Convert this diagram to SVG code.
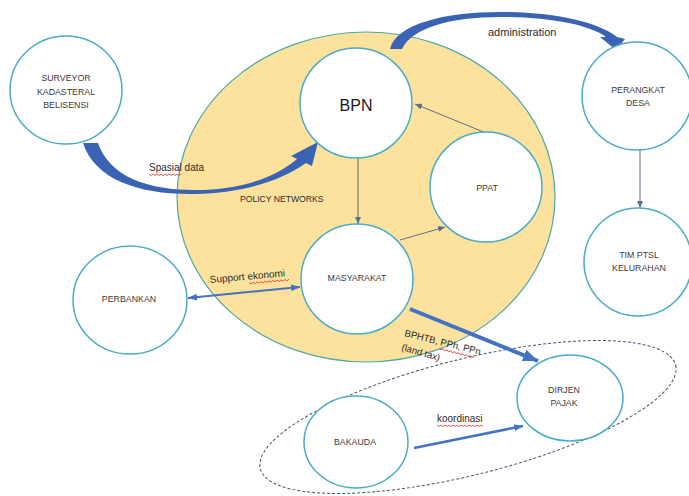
<svg xmlns="http://www.w3.org/2000/svg" width="689" height="496" viewBox="0 0 689 496">
<defs>
<style>
.node{fill:#fff;stroke:#4BACC6;stroke-width:1.5}
.lbl{font-family:"Liberation Sans",Arial,sans-serif;font-size:8.8px;fill:#3a3a3a;text-anchor:middle}
.txt{font-family:"Liberation Sans",Arial,sans-serif;font-size:10px;fill:#2b2b2b}
.thin{stroke:#5C6F88;stroke-width:1;fill:none}
.blue{stroke:#4472C4;fill:none}
.wavy{stroke:#E03030;stroke-width:0.8;fill:none}
</style>
<marker id="ah" markerUnits="userSpaceOnUse" markerWidth="8" markerHeight="8" viewBox="0 0 8 8" refX="7" refY="4" orient="auto"><path d="M0,1 L7,4 L0,7 Z" fill="#5C6F88"/></marker>
<marker id="bh" markerUnits="userSpaceOnUse" markerWidth="10" markerHeight="10" viewBox="0 0 10 10" refX="9" refY="5" orient="auto-start-reverse"><path d="M0,1.5 L9,5 L0,8.5 Z" fill="#4472C4"/></marker>
<marker id="bigh" markerUnits="userSpaceOnUse" markerWidth="16" markerHeight="16" viewBox="0 0 16 16" refX="15" refY="8" orient="auto"><path d="M0,2 L15,8 L0,14 Z" fill="#4472C4"/></marker>
</defs>

<g id="policy-networks">
<ellipse cx="366" cy="197" rx="189" ry="165" fill="#FDE29D" stroke="#4EA8A8" stroke-width="1.2"/>
<text class="txt" x="240" y="202" style="font-size:8.6px">POLICY NETWORKS</text>
</g>

<g id="koordinasi-group">
<ellipse cx="468" cy="417" rx="214" ry="58" transform="rotate(-14 468 417)" fill="none" stroke="#44546A" stroke-width="1" stroke-dasharray="3,2"/>
</g>

<g id="connectors">
<path d="M83,143 C95,180 140,195 195,194 C245,193 282,180 306,163 L312,166 L318,142 L291,156 L297,159 C275,178 240,190 195,190 C150,190 110,178 98,143 Z" fill="#3A63B3"/>
<path d="M390,49 C396,24 445,12 500,12 C555,12 598,22 617,37 L625,39 L616,50 L600,37 L606,37 C590,25 550,17 500,17 C450,17 412,28 402,49 Z" fill="#3A63B3"/>
<line class="thin" x1="358" y1="158" x2="358" y2="224" marker-end="url(#ah)"/>
<line class="thin" x1="486" y1="133" x2="415" y2="104" marker-end="url(#ah)"/>
<line class="thin" x1="400" y1="240" x2="445" y2="227" marker-end="url(#ah)"/>
<line class="thin" x1="640" y1="150" x2="640" y2="208" marker-end="url(#ah)"/>
<line class="blue" stroke-width="2" x1="188" y1="298" x2="300" y2="287" marker-start="url(#bh)" marker-end="url(#bh)"/>
<line class="blue" stroke-width="4" x1="410" y1="309" x2="538" y2="361" marker-end="url(#bigh)"/>
<line class="blue" stroke-width="2.5" x1="414" y1="448" x2="523" y2="426" marker-end="url(#bh)"/>
<text class="txt" x="149" y="171">Spasial data</text>
<path class="wavy" d="M149,174 l2,1.5 l2,-1.5 l2,1.5 l2,-1.5 l2,1.5 l2,-1.5 l2,1.5 l2,-1.5 l2,1.5 l2,-1.5 l2,1.5 l2,-1.5 l2,1.5 l2,-1.5 l2,1.5 l2,-1.5"/>
<text class="txt" x="488" y="36" style="font-size:11px">administration</text>
<text class="txt" x="210" y="283" transform="rotate(-5 210 283)">Support ekonomi</text>
<path class="wavy" transform="rotate(-5 210 283)" d="M249,286 l2,1.5 l2,-1.5 l2,1.5 l2,-1.5 l2,1.5 l2,-1.5 l2,1.5 l2,-1.5 l2,1.5 l2,-1.5 l2,1.5 l2,-1.5 l2,1.5 l2,-1.5 l2,1.5 l2,-1.5 l2,1.5 l2,-1.5 l2,1.5 l2,-1.5"/>
<text class="txt" x="404" y="336" transform="rotate(14 404 336)" style="font-size:9.5px">BPHTB, PPh, PPn</text>
<path class="wavy" transform="rotate(14 404 336)" d="M441,339 l2,1.5 l2,-1.5 l2,1.5 l2,-1.5 l2,1.5 l2,-1.5 l2,1.5 l2,-1.5 l2,1.5 l2,-1.5 l2,1.5 l2,-1.5 l2,1.5 l2,-1.5 l2,1.5 l2,-1.5 l2,1.5 l2,-1.5"/>
<text class="txt" x="401" y="350" transform="rotate(16 401 350)" style="font-size:9.5px">(land tax)</text>
<text class="txt" x="437" y="422">koordinasi</text>
<path class="wavy" d="M437,425 l2,1.5 l2,-1.5 l2,1.5 l2,-1.5 l2,1.5 l2,-1.5 l2,1.5 l2,-1.5 l2,1.5 l2,-1.5 l2,1.5 l2,-1.5 l2,1.5 l2,-1.5 l2,1.5 l2,-1.5 l2,1.5 l2,-1.5 l2,1.5 l2,-1.5 l2,1.5 l2,-1.5 l2,1.5"/>
</g>

<g id="surveyor">
<ellipse class="node" cx="66" cy="90" rx="56" ry="54"/>
<text class="lbl" x="66" y="81">SURVEYOR</text>
<text class="lbl" x="66" y="95">KADASTERAL</text>
<text class="lbl" x="66" y="108">BELISENSI</text>
</g>
<g id="bpn">
<ellipse class="node" cx="356" cy="103" rx="56" ry="55"/>
<text class="lbl" x="356" y="111" style="font-size:16px;fill:#1a1a1a">BPN</text>
</g>
<g id="ppat">
<ellipse class="node" cx="486" cy="187" rx="56" ry="55"/>
<text class="lbl" x="487" y="191">PPAT</text>
</g>
<g id="masyarakat">
<ellipse class="node" cx="357" cy="279" rx="56" ry="55"/>
<text class="lbl" x="357" y="281">MASYARAKAT</text>
</g>
<g id="perangkat-desa">
<ellipse class="node" cx="637" cy="96" rx="55" ry="54"/>
<text class="lbl" x="638" y="93">PERANGKAT</text>
<text class="lbl" x="638" y="106">DESA</text>
</g>
<g id="tim-ptsl">
<ellipse class="node" cx="638" cy="262" rx="54" ry="54"/>
<text class="lbl" x="639" y="258">TIM PTSL</text>
<text class="lbl" x="639" y="271">KELURAHAN</text>
</g>
<g id="perbankan">
<ellipse class="node" cx="130" cy="300" rx="57" ry="54"/>
<text class="lbl" x="129" y="302">PERBANKAN</text>
</g>
<g id="bakauda">
<ellipse class="node" cx="356" cy="442" rx="52" ry="46"/>
<text class="lbl" x="355" y="445">BAKAUDA</text>
</g>
<g id="dirjen-pajak">
<ellipse class="node" cx="570" cy="398" rx="53" ry="43"/>
<text class="lbl" x="564" y="393">DIRJEN</text>
<text class="lbl" x="564" y="406">PAJAK</text>
</g>
</svg>
